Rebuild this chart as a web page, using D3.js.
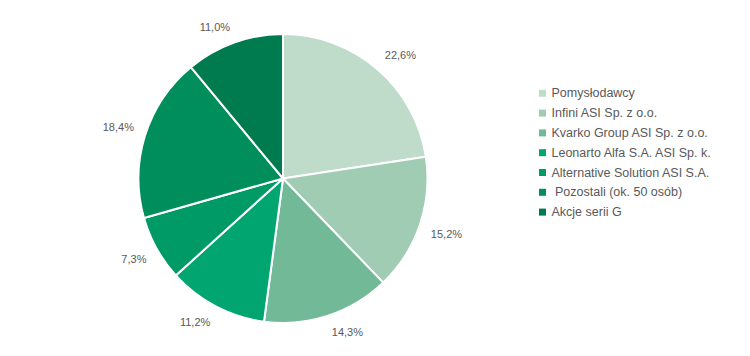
<!DOCTYPE html>
<html><head><meta charset="utf-8">
<script src="https://cdn.jsdelivr.net/npm/d3@7"></script>
<style>body{margin:0;background:#fff}svg{display:block}</style>
</head><body>
<svg id="c" width="750" height="356"></svg>
<script>
const categories = ["Pomysłodawcy","Infini ASI Sp. z o.o.","Kvarko Group ASI Sp. z o.o.","Leonarto Alfa S.A. ASI Sp. k.","Alternative Solution ASI S.A."," Pozostali (ok. 50 osób)","Akcje serii G"];
const values = [22.6,15.2,14.3,11.2,7.3,18.4,11.0];
const labels = ["22,6%","15,2%","14,3%","11,2%","7,3%","18,4%","11,0%"];
const colors = ["#bfdccb","#9fccb3","#72b998","#00a56f","#009a67","#008e5d","#007a4f"];

const svg = d3.select("#c");
const cx = 283, cy = 178.5, r = 144.5;
const g = svg.append("g").attr("transform", `translate(${cx},${cy})`);
const pie = d3.pie().sort(null).value(d => d)(values);
const arc = d3.arc().innerRadius(0).outerRadius(r);
g.selectAll("path").data(pie).join("path")
  .attr("d", arc).attr("fill", (d,i) => colors[i])
  .attr("stroke", "#fff").attr("stroke-width", 2).attr("stroke-linejoin","round");

const font = "'Liberation Sans', Arial, sans-serif";
g.selectAll("text.lbl").data(pie).join("text").attr("class","lbl")
  .attr("font-family", font).attr("font-size", 11).attr("fill", "#595959")
  .attr("text-anchor","middle").attr("dominant-baseline","central")
  .text((d,i) => labels[i])
  .each(function(d){
    const a = (d.startAngle + d.endAngle)/2;
    const ux = Math.sin(a), uy = -Math.cos(a);
    const bb = this.getBBox();
    const dist = r + 11.5;
    const px = ux*dist, py = uy*dist;
    const hw = bb.width/2, hh = 5;
    d3.select(this).attr("x", px + Math.sign(ux)*hw).attr("y", py + Math.sign(uy)*hh);
  });

const lg = svg.append("g");
const y0 = 93.3, step = 19.8;
categories.forEach((c,i) => {
  const y = y0 + i*step;
  lg.append("rect").attr("x", 539).attr("y", y-3.5).attr("width", 7).attr("height", 7).attr("fill", colors[i]);
  lg.append("text").attr("x", 551.5).attr("y", y).attr("dominant-baseline","central")
    .attr("font-family", font).attr("font-size", 12.5).attr("fill", "#595959")
    .attr("xml:space","preserve").style("white-space","pre").text(c);
});
</script>
</body></html>
